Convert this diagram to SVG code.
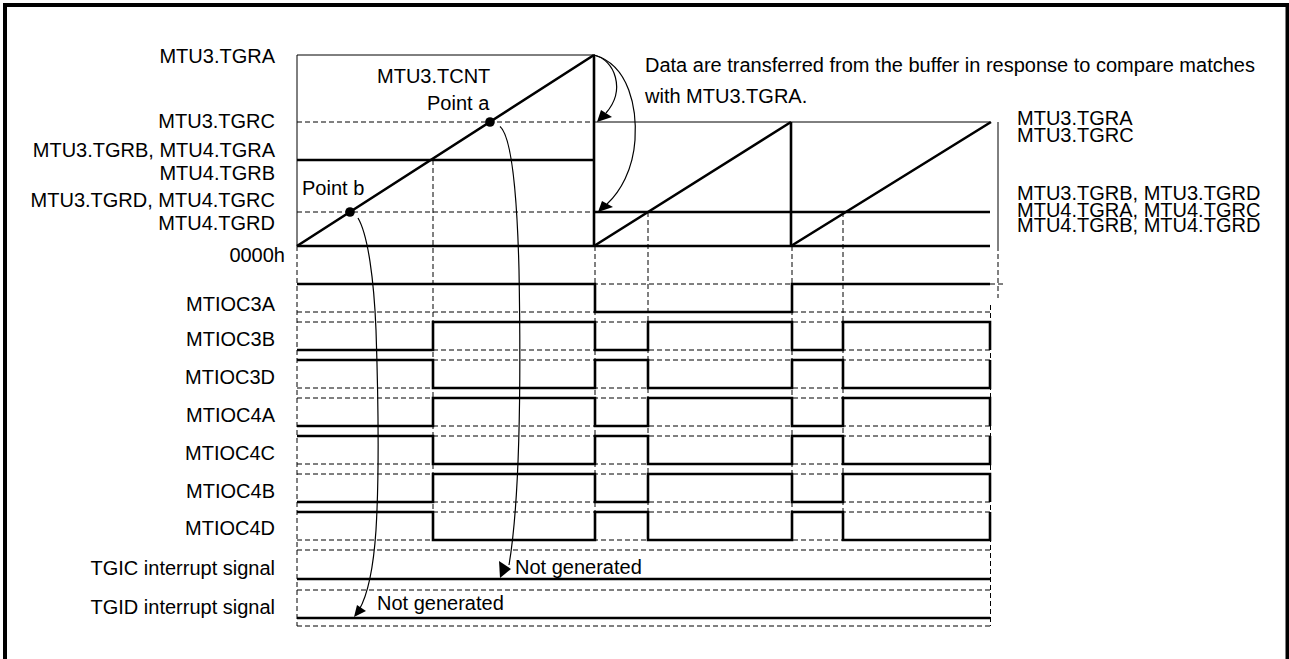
<svg xmlns="http://www.w3.org/2000/svg" width="1289" height="659" viewBox="0 0 1289 659">
<style>
text{font-family:"Liberation Sans",Arial,sans-serif;font-size:20px;fill:#000}
.r{text-anchor:end}
.thin{stroke:#000;stroke-width:1;fill:none}
.thick{stroke:#000;stroke-width:2.6;fill:none}
.dash{stroke:#000;stroke-width:1;fill:none;stroke-dasharray:5,3}
.sig{stroke:#000;stroke-width:2.6;fill:none;stroke-linejoin:miter}
.cur{stroke:#000;stroke-width:1.2;fill:none}
</style>
<rect x="0" y="0" width="1289" height="659" fill="#fff"/>
<rect x="5" y="5" width="1282.5" height="660" fill="none" stroke="#000" stroke-width="4"/>

<g id="left-labels">
<text class="r" x="275" y="63">MTU3.TGRA</text>
<text class="r" x="275" y="128">MTU3.TGRC</text>
<text class="r" x="275" y="157">MTU3.TGRB, MTU4.TGRA</text>
<text class="r" x="275" y="180">MTU4.TGRB</text>
<text class="r" x="275" y="207">MTU3.TGRD, MTU4.TGRC</text>
<text class="r" x="275" y="230">MTU4.TGRD</text>
<text class="r" x="285" y="262">0000h</text>
<text class="r" x="275" y="311">MTIOC3A</text>
<text class="r" x="275" y="346">MTIOC3B</text>
<text class="r" x="275" y="384">MTIOC3D</text>
<text class="r" x="275" y="422">MTIOC4A</text>
<text class="r" x="275" y="460">MTIOC4C</text>
<text class="r" x="275" y="498">MTIOC4B</text>
<text class="r" x="275" y="535">MTIOC4D</text>
<text class="r" x="275" y="575">TGIC interrupt signal</text>
<text class="r" x="275" y="614">TGID interrupt signal</text>
</g>

<g id="right-labels">
<text x="1017" y="125">MTU3.TGRA</text>
<text x="1017" y="141.5">MTU3.TGRC</text>
<text x="1017" y="200">MTU3.TGRB, MTU3.TGRD</text>
<text x="1017" y="216.5">MTU4.TGRA, MTU4.TGRC</text>
<text x="1017" y="232">MTU4.TGRB, MTU4.TGRD</text>
</g>

<g id="notes">
<text x="377" y="83">MTU3.TCNT</text>
<text x="427" y="110">Point a</text>
<text x="302" y="195">Point b</text>
<text x="645" y="72">Data are transferred from the buffer in response to compare matches</text>
<text x="645" y="103">with MTU3.TGRA.</text>
<text x="515" y="574">Not generated</text>
<text x="377" y="610">Not generated</text>
</g>

<g id="counter-chart">
<path class="dash" d="M297,122H595M297,212H595"/>
<path class="thin" d="M297,55H595M297,55V246M595,122H990M998,122V246"/>
<path class="thick" d="M297,160H595M595,212H990M297,246H990M594,55V246M791,122V246"/>
<path class="thick" d="M297,246L594,55M594,246L791,122M791,246L991,122"/>
<circle cx="490" cy="122" r="4.8" fill="#000"/>
<circle cx="350" cy="212" r="4.8" fill="#000"/>
</g>

<g id="guides">
<path class="dash" d="M433,160V540M648,212V540M843,212V540M595,246V540M792,246V540M297,246V626M998,246V298M990.5,305V626M990,284H1004"/>
<path class="dash" d="M297,284H990M297,312H990M297,322H990M297,350H990M297,360H990M297,388H990M297,398H990M297,426H990M297,436H990M297,464H990M297,474H990M297,502H990M297,512H990M297,540H990M297,550H990M297,590H990M297,626H990"/>
</g>

<g id="waveforms">
<path class="sig" d="M297,284H595V312H792V284H990"/>
<path class="sig" d="M297,350H433V322H595V350H648V322H792V350H843V322H990V350"/>
<path class="sig" d="M297,360H433V388H595V360H648V388H792V360H843V388H990V360"/>
<path class="sig" d="M297,426H433V398H595V426H648V398H792V426H843V398H990V426"/>
<path class="sig" d="M297,436H433V464H595V436H648V464H792V436H843V464H990V436"/>
<path class="sig" d="M297,502H433V474H595V502H648V474H792V502H843V474H990V502"/>
<path class="sig" d="M297,512H433V540H595V512H648V540H792V512H843V540H990V512"/>
<path class="sig" d="M297,579H990M297,618H990"/>
</g>

<g id="connectors">
<path class="cur" d="M594,55C615,60 626,90 606,113"/>
<polygon points="597,122 601,110 612,117" fill="#000"/>
<path class="cur" d="M594,55C630,65 637,110 635,140C633,170 620,192 607,204"/>
<polygon points="598,212 602,201 613,207" fill="#000"/>
<path class="cur" d="M500,126.5C511,136 517,190 519,270C521,380 520,500 509,565"/>
<polygon points="511,569 499,561 500,578" fill="#000"/>
<path class="cur" d="M358,218C368,235 374,280 376,330C379,420 379,480 376,530C373,575 366,598 359,610"/>
<polygon points="354,617 357,605 366,611" fill="#000"/>
</g>
</svg>
